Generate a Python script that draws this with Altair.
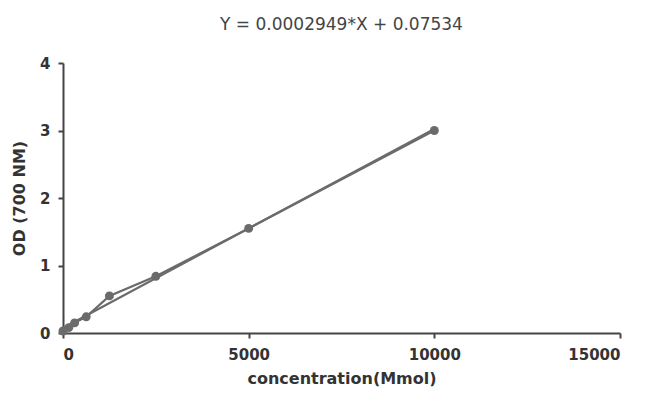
import altair as alt
import pandas as pd

conc = [0, 156, 312, 625, 1250, 2500, 5000, 10000]
od = [0.03, 0.08, 0.15, 0.24, 0.55, 0.84, 1.55, 3.0]
slope = 0.0002949
intercept = 0.07534
fit_x = [0, 10000]

df = pd.DataFrame({"x": conc, "y": od})
fit = pd.DataFrame({"x": fit_x, "y": [slope * v + intercept for v in fit_x]})

gray = "#6b6b6b"
xs = alt.Scale(domain=[0, 15000], nice=False)
ys = alt.Scale(domain=[0, 4], nice=False)
xax = alt.Axis(values=[0, 5000, 10000, 15000], format="d", title="concentration(Mmol)", grid=False)
yax = alt.Axis(values=[0, 1, 2, 3, 4], format="d", title="OD (700 NM)", grid=False)

base_line = alt.Chart(df).mark_line(color=gray, strokeWidth=2.2).encode(
    x=alt.X("x:Q", scale=xs, axis=xax),
    y=alt.Y("y:Q", scale=ys, axis=yax),
)
pts = alt.Chart(df).mark_circle(color=gray, opacity=1, size=80).encode(
    x=alt.X("x:Q", scale=xs), y=alt.Y("y:Q", scale=ys)
)
fitline = alt.Chart(fit).mark_line(color=gray, strokeWidth=2.2).encode(
    x=alt.X("x:Q", scale=xs), y=alt.Y("y:Q", scale=ys)
)

chart = (
    alt.layer(base_line, fitline, pts)
    .properties(
        width=557,
        height=270,
        title=alt.TitleParams(
            "Y = 0.0002949*X + 0.07534",
            font="DejaVu Sans",
            fontSize=17,
            fontWeight="normal",
            color="#444",
            offset=22,
        ),
        padding={"left": 55, "top": 55, "right": 19, "bottom": 56},
        autosize=alt.AutoSizeParams(type="none"),
    )
    .configure_view(stroke=None)
    .configure_axis(
        domainColor="#444",
        domainWidth=2,
        tickColor="#444",
        tickWidth=2,
        tickSize=5,
        labelFont="DejaVu Sans",
        labelFontSize=15,
        labelFontWeight="bold",
        labelColor="#333",
        titleFont="DejaVu Sans",
        titleFontSize=16,
        titleFontWeight="bold",
        titleColor="#333",
    )
    .configure_axisX(labelPadding=9, titlePadding=8)
    .configure_axisY(labelPadding=8, titlePadding=12)
)

chart.save("out.html", embed_options={"renderer": "svg", "actions": False})
